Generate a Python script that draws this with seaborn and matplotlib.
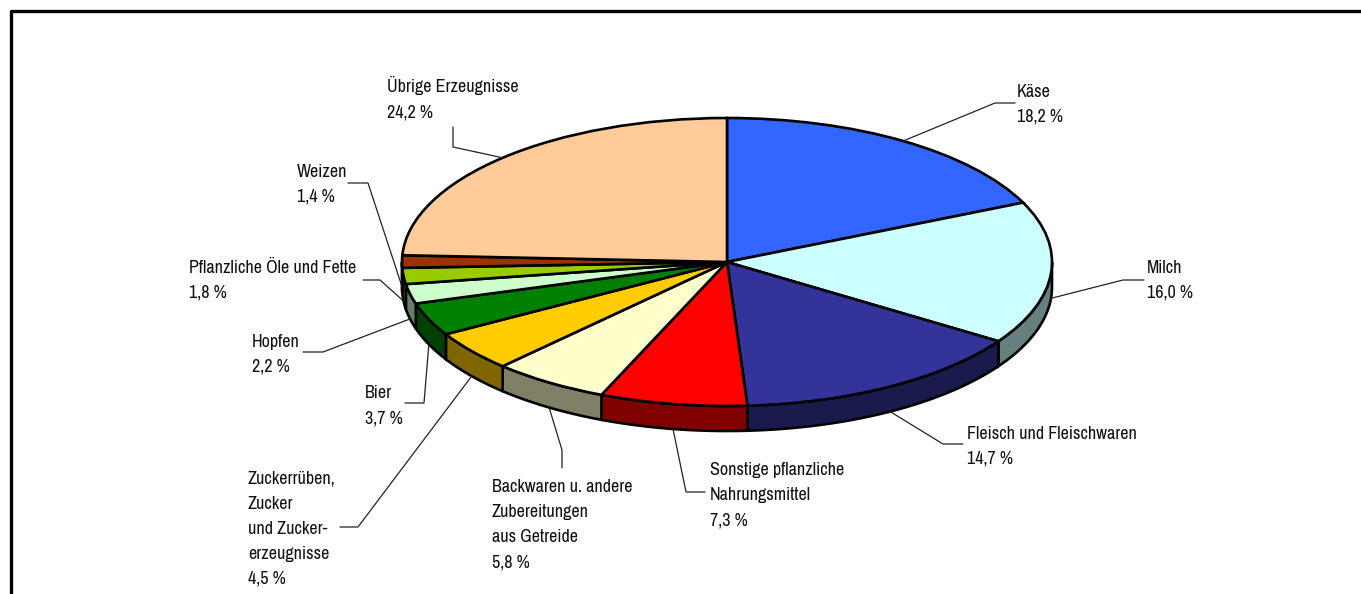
import numpy as np
import matplotlib
matplotlib.use("Agg")
import matplotlib.pyplot as plt
import seaborn as sns
from matplotlib import font_manager

# ─── DATA ───────────────────────────────────────────────────────────────────
labels = [
    "Käse",
    "Milch",
    "Fleisch und Fleischwaren",
    "Sonstige pflanzliche\nNahrungsmittel",
    "Backwaren u. andere\nZubereitungen\naus Getreide",
    "Zuckerrüben,\nZucker\nund Zucker-\nerzeugnisse",
    "Bier",
    "Hopfen",
    "Pflanzliche Öle und Fette",
    "Weizen",
    "Übrige Erzeugnisse",
]
shares = [18.2, 16.0, 14.7, 7.3, 5.8, 4.5, 3.7, 2.2, 1.8, 1.4, 24.2]
top_colors = ["#3366FF", "#CCFFFF", "#333399", "#FF0000", "#FFFFCC", "#FFCC00",
              "#008000", "#CCFFCC", "#99CC00", "#993300", "#FFCC99"]

# ─── LAYOUT (pixels of the 1361x594 canvas) ─────────────────────────────────
W, H = 1361, 594
CX, CY, RX, RY = 727, 262, 325, 144
DEPTH = 25 / RY
LINE_STEP = 25
# text anchor (x left, first baseline y) and leader bends per label
text_pos = [(1017, 97), (1147, 273), (967, 439), (710, 475), (492, 492),
            (248, 484), (365, 398), (252, 347), (189, 273), (297, 177), (387, 92)]
leader_pts = [[(995, 103), (1015, 103)], [(1123, 280), (1144, 280)],
              [(943, 444), (963, 444)], [(686, 492), (705, 492)],
              [(562, 450), (562, 468)], [(358, 527), (340, 527)],
              [(424, 403), (405, 403)], [(323, 352), (303, 352)],
              [(380, 280), (363, 280)], [(368, 183), (348, 183)],
              [(453, 147), (453, 127)]]


def px(x, y):
    return (x - CX) / RX, (CY - y) / RY


def darker(c, f=0.5):
    r, g, b = matplotlib.colors.to_rgb(c)
    return (r * f, g * f, b * f)


def pick_font():
    # prefer a narrow face (the original uses Arial Narrow)
    for f in font_manager.fontManager.ttflist:
        if "Narrow" in f.name or "Condensed" in f.name:
            return [f.name, "DejaVu Sans"], "normal", 13
    for f in font_manager.fontManager.ttflist:
        if f.stretch in ("condensed", "semi-condensed", 600, 700) and f.weight in ("normal", 400):
            return [f.name, "DejaVu Sans"], f.stretch, 13
    return ["Liberation Sans", "DejaVu Sans"], "normal", 10.8


sns.set_style("white")
FONT, STRETCH, FSIZE = pick_font()

fig = plt.figure(figsize=(W / 100, H / 100), dpi=100)
ax = fig.add_axes([0, 0, 1, 1])

# side walls of the front half
total = sum(shares)
edges = np.concatenate([[0], np.cumsum(shares)]) / total * 360
for i, col in enumerate(top_colors):
    a1, a2 = max(edges[i], 90), min(edges[i + 1], 270)
    if a2 <= a1:
        continue
    a = np.radians(np.linspace(a1, a2, 80))
    xs, ys = np.sin(a), np.cos(a)
    ax.fill(np.concatenate([xs, xs[::-1]]), np.concatenate([ys, ys[::-1] - DEPTH]),
            facecolor=darker(col), edgecolor="black", linewidth=1.9, zorder=1)

# top face
wedges, _ = ax.pie(shares, colors=top_colors, startangle=90, counterclock=False,
                   radius=1, center=(0, 0),
                   wedgeprops=dict(edgecolor="black", linewidth=1.9))
for w in wedges:
    w.set_zorder(2)

ax.set_aspect("auto")
ax.set_xlim(px(0, 0)[0], px(W, 0)[0])
ax.set_ylim(px(0, H)[1], px(0, 0)[1])
ax.axis("off")

# labels with leader lines
for i, lab in enumerate(labels):
    mid = np.radians((edges[i] + edges[i + 1]) / 2)
    ax_, ay_ = np.sin(mid), np.cos(mid)
    if ay_ < 0.01:
        ay_ -= DEPTH
    pts = [px(*p) for p in leader_pts[i]]
    ax.plot([ax_] + [p[0] for p in pts], [ay_] + [p[1] for p in pts],
            color="#222222", linewidth=0.9, zorder=3)
    pct = f"{shares[i]:.1f}".replace(".", ",") + " %"
    lines = lab.split("\n") + [pct]
    x0, y0 = text_pos[i]
    for k, line in enumerate(lines):
        tx, ty = px(x0, y0 + k * LINE_STEP)
        ax.text(tx, ty, line, ha="left", va="baseline", family=FONT,
                fontstretch=STRETCH, fontsize=FSIZE, color="#111111", zorder=4)

# frame
fx0, fy0 = px(11, 11)
fx1, fy1 = px(W + 5, H + 5)
ax.plot([fx0, fx0, fx1], [fy1, fy0, fy0], color="black", linewidth=2.4,
        clip_on=False, zorder=5)

fig.savefig("out.png", dpi=100)
